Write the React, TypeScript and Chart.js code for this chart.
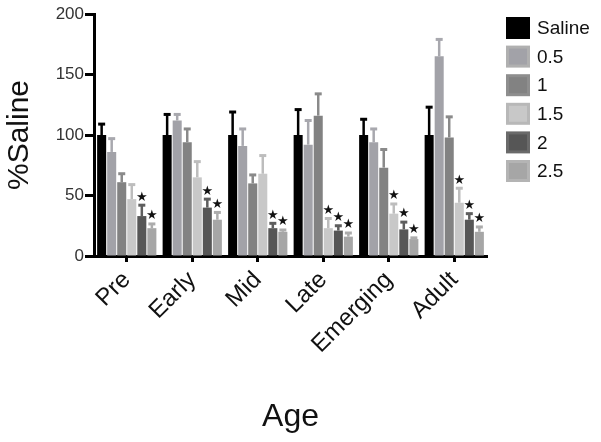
import { useEffect, useRef } from 'react';
import { Chart, registerables } from 'chart.js';

Chart.register(...registerables);

const categories = ['Pre', 'Early', 'Mid', 'Late', 'Emerging', 'Adult'];
const seriesLabels = ['Saline', '0.5', '1', '1.5', '2', '2.5'];
const yTicks = [0, 50, 100, 150, 200];

const saline = [100, 100, 100, 100, 100, 100];
const dose05 = [86, 112, 91, 92, 94, 165];
const dose1 = [61, 94, 60, 116, 73, 98];
const dose15 = [47, 65, 68, 23, 35, 44];
const dose2 = [33, 40, 23, 21, 22, 30];
const dose25 = [23, 30, 20, 16, 14, 20];

const salineErr = [9, 17, 19, 21, 13, 23];
const dose05Err = [11, 5, 14, 20, 11, 14];
const dose1Err = [7, 11, 7, 18, 15, 17];
const dose15Err = [12, 13, 15, 8, 8, 12];
const dose2Err = [9, 7, 4, 4, 6, 5];
const dose25Err = [3.5, 6, 1.5, 3, 1, 4];

const salineSig = [false, false, false, false, false, false];
const dose05Sig = [false, false, false, false, false, false];
const dose1Sig = [false, false, false, false, false, false];
const dose15Sig = [false, false, false, true, true, true];
const dose2Sig = [true, true, true, true, true, true];
const dose25Sig = [true, true, true, true, true, true];

const FONT = '"Liberation Sans", Arial, Helvetica, sans-serif';

const errorPlugin = {
  id: 'errorBars',
  afterDatasetsDraw(chart: any) {
    const { ctx } = chart;
    const y = chart.scales.y;
    chart.data.datasets.forEach((ds: any, di: number) => {
      const meta = chart.getDatasetMeta(di);
      meta.data.forEach((bar: any, i: number) => {
        const v = ds.data[i];
        const e = ds.errors[i];
        const base = y.getPixelForValue(v);
        const top = y.getPixelForValue(v + e);
        ctx.save();
        ctx.strokeStyle = ds.errorColor;
        ctx.lineWidth = 2.5;
        ctx.beginPath();
        ctx.moveTo(bar.x, base);
        ctx.lineTo(bar.x, top);
        ctx.stroke();
        ctx.lineWidth = 3;
        ctx.beginPath();
        ctx.moveTo(bar.x - 3.5, top);
        ctx.lineTo(bar.x + 3.5, top);
        ctx.stroke();
        if (ds.sig[i]) {
          ctx.fillStyle = '#111';
          ctx.font = '13px "DejaVu Sans", sans-serif';
          ctx.textAlign = 'center';
          ctx.textBaseline = 'middle';
          ctx.fillText('\u2605', bar.x, top - 8);
        }
        ctx.restore();
      });
    });
  },
};

const legendPlugin = {
  id: 'sideLegend',
  afterDraw(chart: any) {
    const { ctx, chartArea } = chart;
    const x0 = chartArea.right + 19;
    const y0 = 17;
    chart.data.datasets.forEach((ds: any, i: number) => {
      const top = y0 + i * 28.6;
      ctx.save();
      ctx.fillStyle = ds.legendBorder;
      ctx.fillRect(x0, top, 24, 22);
      ctx.fillStyle = ds.backgroundColor;
      ctx.fillRect(x0 + 3, top + 3, 18, 16);
      ctx.fillStyle = '#111';
      ctx.font = `19px ${FONT}`;
      ctx.textAlign = 'left';
      ctx.textBaseline = 'middle';
      ctx.fillText(ds.label, x0 + 31, top + 12);
      ctx.restore();
    });
  },
};

export default function App() {
  const ref = useRef<HTMLCanvasElement | null>(null);

  useEffect(() => {
    document.body.style.margin = '0';
    const canvas = ref.current;
    if (!canvas) return;
    const mk = (
      label: string,
      data: number[],
      errors: number[],
      sig: boolean[],
      color: string,
      errorColor: string,
      legendBorder: string
    ) => ({
      label,
      data,
      errors,
      sig,
      errorColor,
      legendBorder,
      backgroundColor: color,
      borderColor: legendBorder,
      borderWidth: 0,
      categoryPercentage: 0.92,
      barPercentage: 0.9,
    });
    const chart = new Chart(canvas, {
      type: 'bar',
      data: {
        labels: categories,
        datasets: [
          mk(seriesLabels[0], saline, salineErr, salineSig, '#000000', '#000000', '#000000'),
          mk(seriesLabels[1], dose05, dose05Err, dose05Sig, '#a2a2a8', '#a8a8ae', '#b0b0b0'),
          mk(seriesLabels[2], dose1, dose1Err, dose1Sig, '#828282', '#8a8a8a', '#8e8e8e'),
          mk(seriesLabels[3], dose15, dose15Err, dose15Sig, '#c8c8c8', '#bdbdbd', '#b8b8b8'),
          mk(seriesLabels[4], dose2, dose2Err, dose2Sig, '#565656', '#5e5e5e', '#6a6a6a'),
          mk(seriesLabels[5], dose25, dose25Err, dose25Sig, '#a6a6a6', '#acacac', '#b4b4b4'),
        ] as any,
      },
      options: {
        responsive: false,
        animation: false,
        layout: { padding: { top: 14, right: 114, left: 0, bottom: 6 } },
        plugins: {
          legend: { display: false },
          tooltip: { enabled: false },
        },
        scales: {
          x: {
            grid: {
              display: true,
              drawOnChartArea: false,
              drawTicks: true,
              offset: false,
              tickLength: 6,
              tickWidth: 3,
              tickColor: '#000',
            },
            border: { display: true, color: '#000', width: 3 },
            ticks: {
              color: '#111',
              font: { family: FONT, size: 24 },
              minRotation: 45,
              maxRotation: 45,
              padding: 4,
            },
            title: {
              display: true,
              text: 'Age',
              color: '#111',
              font: { family: FONT, size: 32 },
              padding: 0,
            },
            afterFit(scale: any) {
              scale.height = 186 - 6;
            },
          },
          y: {
            min: 0,
            max: 200,
            afterBuildTicks(scale: any) {
              scale.ticks = yTicks.map((v) => ({ value: v }));
            },
            grid: {
              display: true,
              drawOnChartArea: false,
              drawTicks: true,
              tickLength: 9,
              tickWidth: 3,
              tickColor: '#000',
            },
            border: { display: true, color: '#000', width: 3 },
            ticks: {
              color: '#333',
              font: { family: FONT, size: 17 },
              padding: 1,
            },
            title: {
              display: true,
              text: '%Saline',
              color: '#111',
              font: { family: FONT, size: 30 },
              padding: { top: 2, bottom: 0 },
            },
            afterFit(scale: any) {
              scale.width = 94;
            },
          },
        },
      },
      plugins: [errorPlugin, legendPlugin],
    });
    return () => chart.destroy();
  }, []);

  return (
    <div style={{ width: 601, height: 442 }}>
      <canvas ref={ref} width={601} height={442} style={{ display: 'block' }} />
    </div>
  );
}
